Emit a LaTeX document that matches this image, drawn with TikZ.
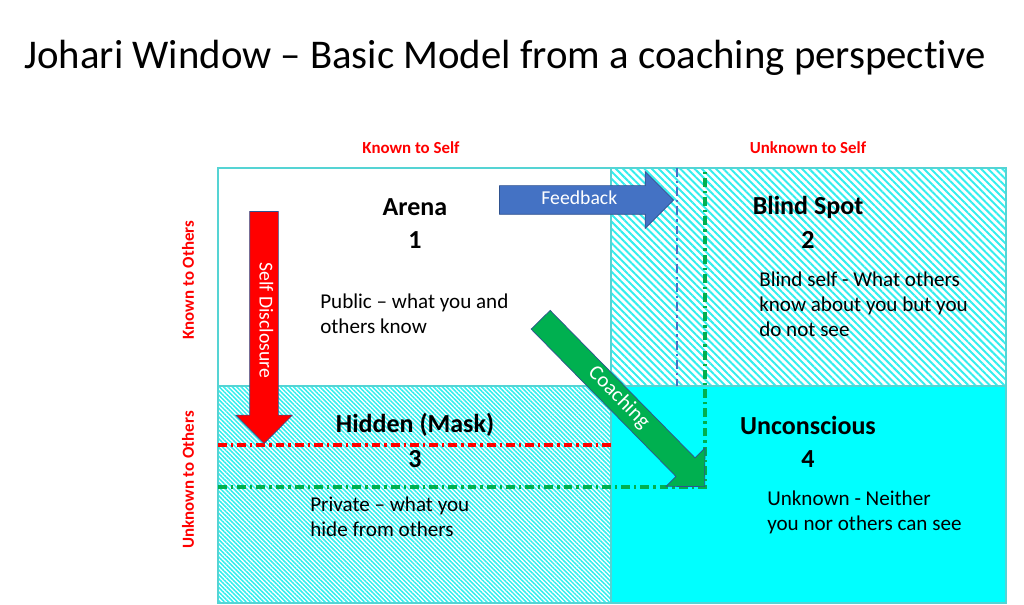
\documentclass[tikz,border=0pt]{standalone}
\usepackage{fontspec}
\setmainfont{Carlito}[Ligatures=NoCommon]
\usetikzlibrary{shapes.arrows,patterns.meta}
\definecolor{winCyan}{HTML}{00FFFF}
\definecolor{winHatch}{HTML}{33EEEE}
\definecolor{winEdge}{HTML}{55D4D4}
\definecolor{arRed}{HTML}{FF0000}
\definecolor{arBlue}{HTML}{4472C4}
\definecolor{arGreen}{HTML}{00B050}
\definecolor{arEdge}{HTML}{2F528F}

\begin{document}
\begin{tikzpicture}
    \tikzset{
    ttl/.style={font=\fontsize{18.5}{22}\selectfont\bfseries},
    body/.style={font=\fontsize{15}{17.8}\selectfont, align=left, anchor=west, inner xsep=0pt},
    hdr/.style={font=\fontsize{12}{14}\selectfont\bfseries, text=arRed},
    move/.style={single arrow, single arrow head extend=0.35cm, draw=arEdge, line width=0.5pt,
        text=white, font=\fontsize{14}{16}\selectfont, text height=0.3cm, text depth=0.08cm,
        inner ysep=0.16cm, minimum width=0pt, anchor=tip},
    sep/.style={dash pattern=on 0.22cm off 0.1cm on 0.06cm off 0.1cm, line width=2.2pt},
    }
    \useasboundingbox (0,0) rectangle (25.6,15.125);

    % corners of the window
    \coordinate (tl) at (5.45,10.925);
    \coordinate (tm) at (15.275,10.925);
    \coordinate (ml) at (5.45,5.475);
    \coordinate (mm) at (15.275,5.475);
    \coordinate (mr) at (25.15,5.475);
    \coordinate (bm) at (15.275,0.05);
    \coordinate (br) at (25.15,0.05);
    \coordinate (tr) at (25.15,10.925);
    \coordinate (bl) at (5.45,0.05);

    \fill[white] (tl) rectangle (mm);
    \fill[pattern={Lines[angle=-45,distance=3.6pt,line width=1.4pt]}, pattern color=winHatch] (tm) rectangle (mr);
    \fill[pattern={Lines[angle=-45,distance=2.2pt,line width=1.1pt]}, pattern color=winHatch] (ml) rectangle (bm);
    \fill[winCyan] (mm) rectangle (br);
    \draw[winEdge, line width=0.8pt] (tl) rectangle (br);
    \draw[winEdge, line width=0.8pt] (tm) -- (bm);
    \draw[winEdge, line width=0.8pt] (ml) -- (mr);

    \node[font=\fontsize{29}{33}\selectfont, anchor=base] (title) at (12.625,13.4)
        {Johari Window – Basic Model from a coaching perspective};

    \node[hdr] (kself) at (10.275,11.425) {Known to Self};
    \node[hdr] (uself) at (20.2,11.425) {Unknown to Self};
    \node[hdr, rotate=90] (kothers) at (4.7,8.125) {Known to Others};
    \node[hdr, rotate=90] (uothers) at (4.7,3.125) {Unknown to Others};

    \node[ttl] (q1) at (10.375,9.95) {Arena};
    \node[ttl] (n1) at (10.375,9.125) {1};
    \node[body] (d1) at (8.0,7.275) {Public – what you and\\others know};
    \node[ttl] (q2) at (20.2,9.95) {Blind Spot};
    \node[ttl] (n2) at (20.2,9.125) {2};
    \node[body] (d2) at (18.975,7.525) {Blind self - What others\\know about you but you\\do not see};
    \node[ttl] (q3) at (10.375,4.5) {Hidden (Mask)};
    \node[ttl] (n3) at (10.375,3.65) {3};
    \node[body] (d3) at (7.75,2.2) {Private – what you\\hide from others};
    \node[ttl] (q4) at (20.2,4.5) {Unconscious};
    \node[ttl] (n4) at (20.2,3.65) {4};
    \node[body] (d4) at (19.175,2.325) {Unknown - Neither\\you nor others can see};

    % moving windows
    \coordinate (redl) at (5.45,4.0);
    \coordinate (redr) at (15.275,4.0);
    \coordinate (grnl) at (5.45,2.95);
    \coordinate (grnc) at (17.625,2.95);
    \coordinate (grnt) at (17.625,10.925);
    \coordinate (blut) at (16.925,10.925);
    \coordinate (blub) at (16.925,5.475);
    \draw[sep, arRed] (redl) -- (redr);
    \draw[sep, arGreen] (grnl) -- (grnc) -- (grnt);
    \draw[sep, arBlue, line width=1.6pt] (blut) -- (blub);

    \node[move, fill=arRed, rotate=-90, minimum height=5.8cm] (disc) at (6.6,4.025) {Self Disclosure};
    \node[move, fill=arBlue, minimum height=4.35cm] (feed) at (16.85,10.125) {Feedback};
    \node[move, fill=arGreen, rotate=-45.5, minimum height=5.85cm, inner ysep=0.135cm, font=\fontsize{15}{17}\selectfont] (coach) at (grnc) {Coaching};
\end{tikzpicture}
\end{document}
